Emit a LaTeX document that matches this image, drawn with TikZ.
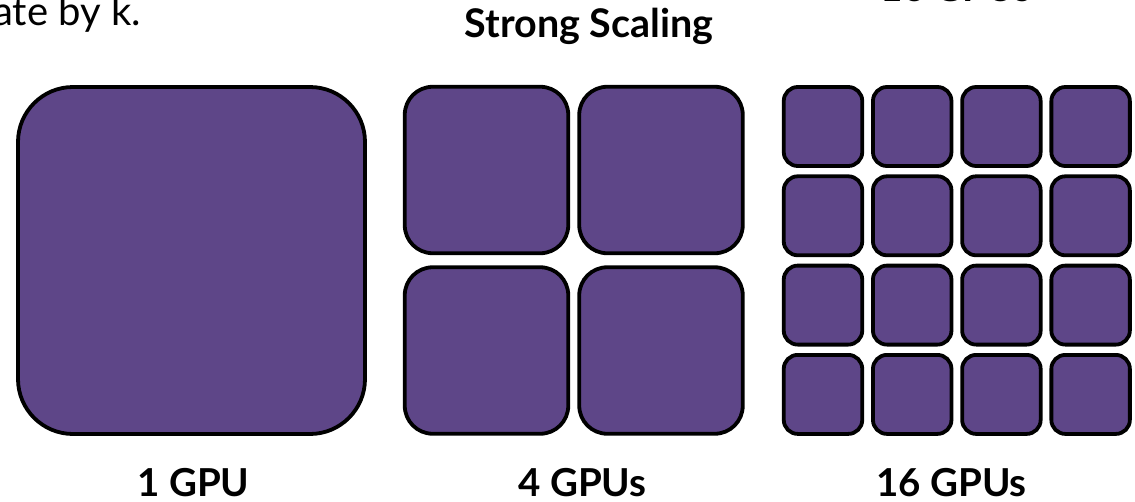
\documentclass[tikz,border=0pt]{standalone}
\usepackage{fontspec}
\setmainfont{Lato}
\definecolor{gpupurple}{RGB}{94,70,136}
\tikzset{
  gpu/.style={draw=black, fill=gpupurple, line width=3.8pt, rectangle, inner sep=0pt},
  lbl/.style={font=\fontsize{38.5}{42}\selectfont\bfseries, anchor=base, inner sep=0pt},
  ttl/.style={font=\fontsize{39.5}{42}\selectfont\bfseries, anchor=base, inner sep=0pt},
  body/.style={font=\fontsize{40}{44}\selectfont, anchor=base east, inner sep=0pt}
}
\begin{document}
\begin{tikzpicture}[x=1pt, y=-1pt]
\useasboundingbox (0,0) rectangle (1135,501);
\clip (0,0) rectangle (1135,501);
% cropped texts at top
\node[body] (tl) at (141,25) {ate by k.};
\node[lbl] (tr) at (956,1) {16 GPUs};
\node[ttl] (title) at (589,37) {Strong Scaling};
% 1 GPU
\node[gpu, minimum width=347pt, minimum height=347pt, rounded corners=55pt] (g1) at (191.5,260.5) {};
% 4 GPUs
\foreach \i/\x in {0/486.5, 1/661}{
  \foreach \j/\y in {0/170, 1/350.5}{
    \node[gpu, minimum width=163.5pt, minimum height=166.5pt, rounded corners=28pt] (f\i\j) at (\x,\y) {};
  }
}
% 16 GPUs
\foreach \i in {0,...,3}{
  \foreach \j in {0,...,3}{
    \node[gpu, minimum width=78.5pt, minimum height=79pt, rounded corners=14pt] (s\i\j) at ({823+89.2*\i},{126.5+89.3*\j}) {};
  }
}
\node[lbl] (l1) at (193.5,496.5) {1 GPU};
\node[lbl] (l4) at (582.5,496.5) {4 GPUs};
\node[lbl] (l16) at (951.5,496.5) {16 GPUs};
\end{tikzpicture}
\end{document}
